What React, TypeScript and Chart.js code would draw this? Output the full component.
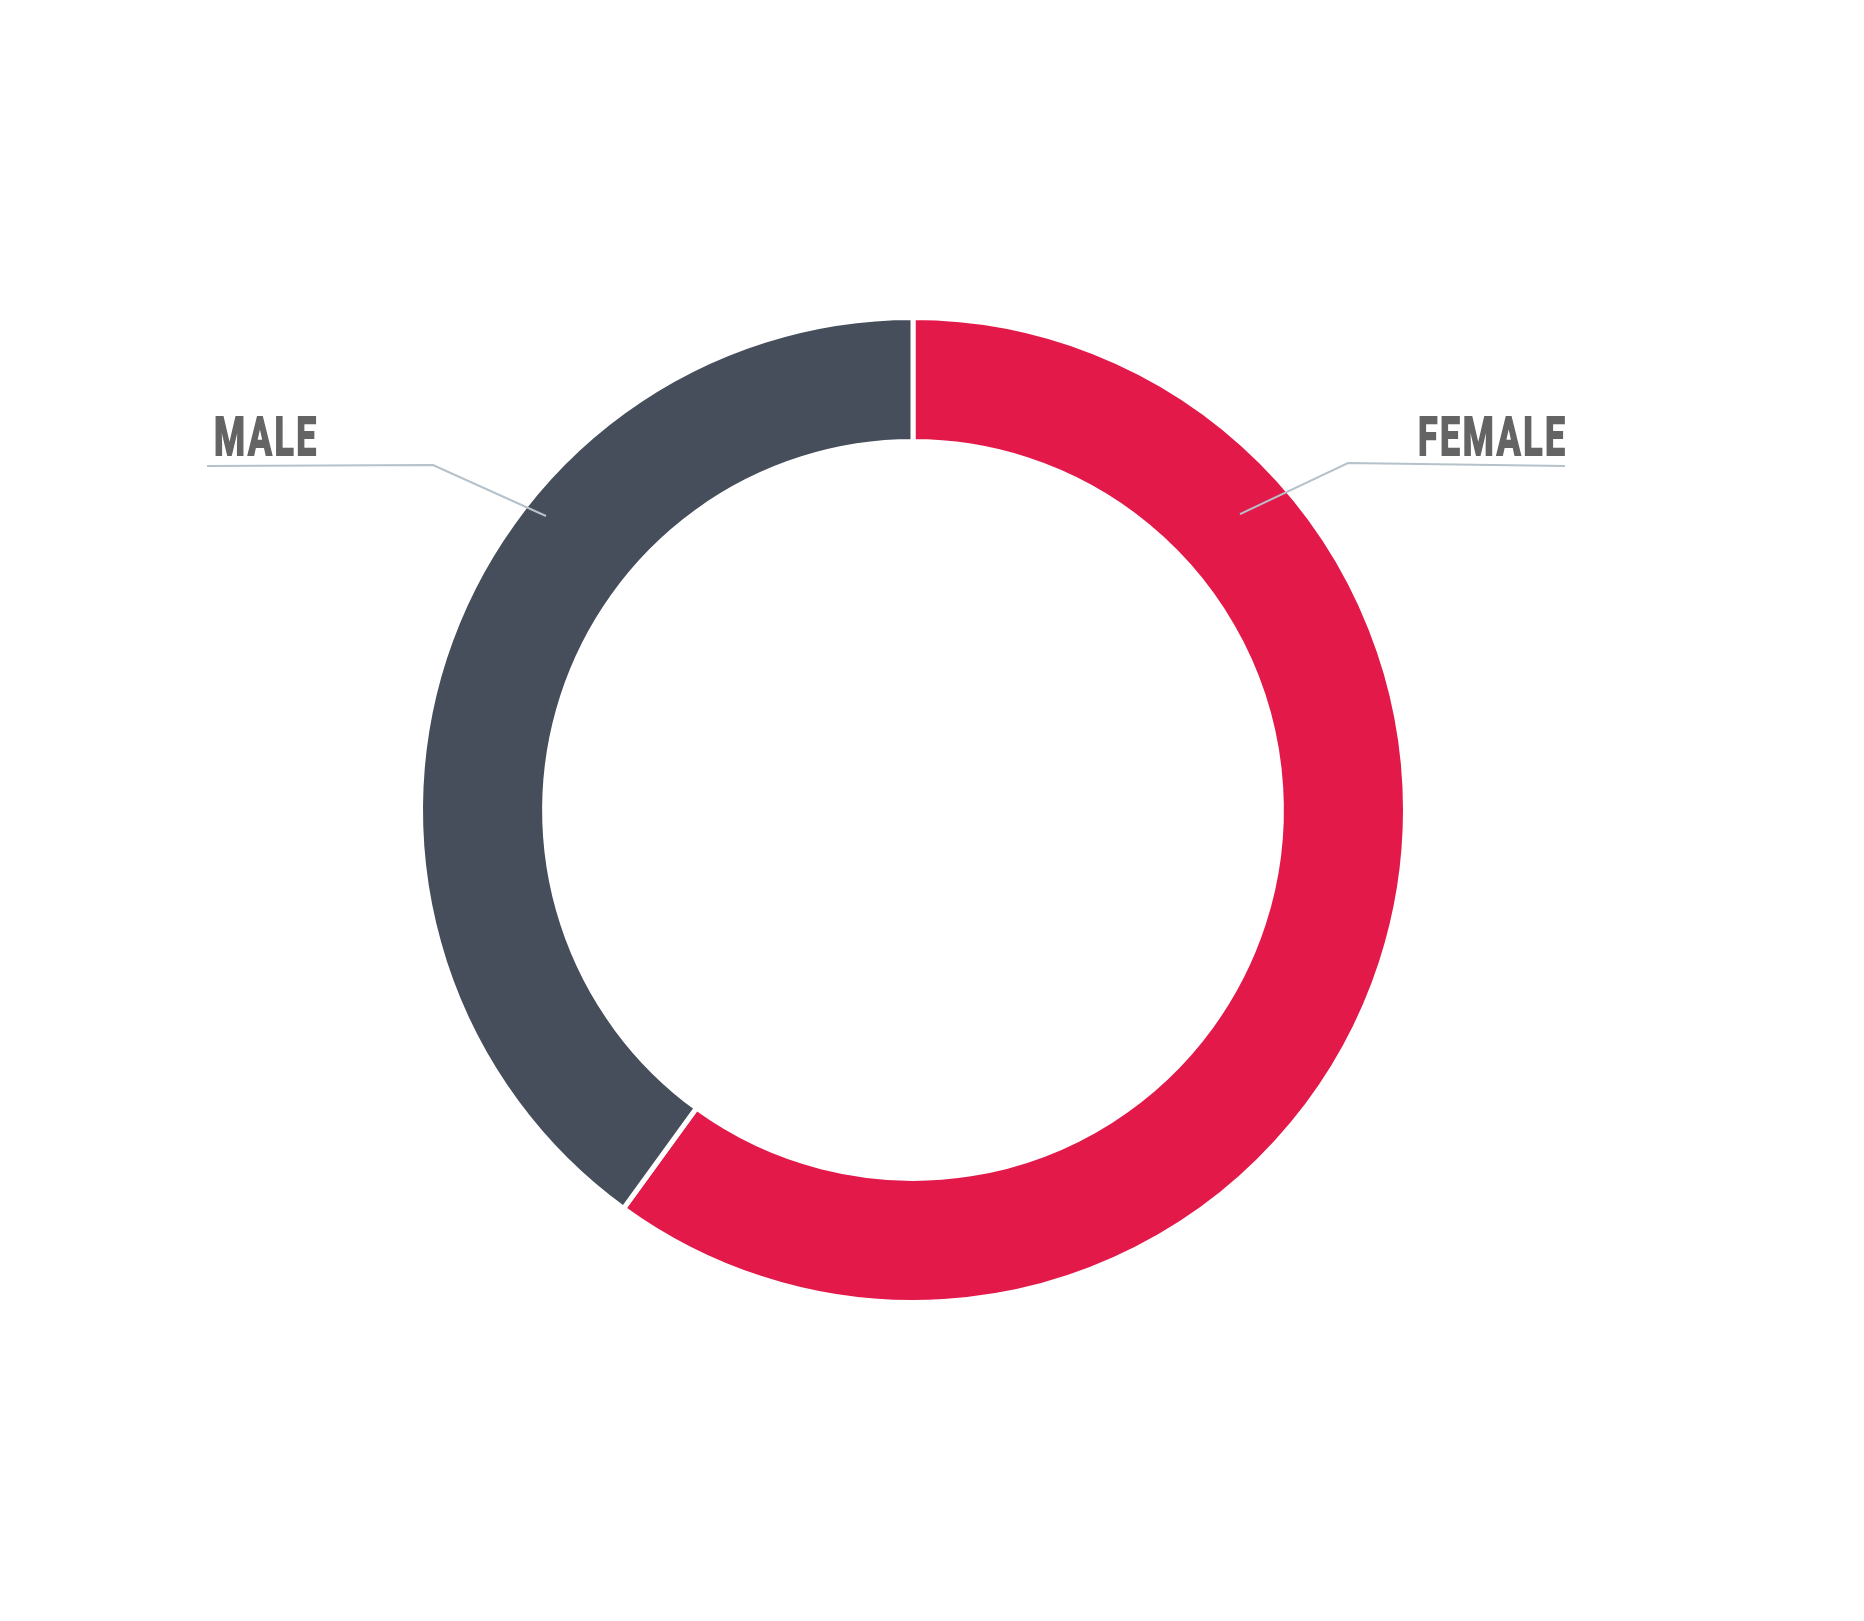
import React, { useEffect, useRef } from "react";
import { Chart, registerables } from "chart.js";

Chart.register(...registerables);

// ---- data ----
const categories = ["FEMALE", "MALE"];
const values = [60, 40];
const sliceColors = ["#E3194A", "#464E5B"];

// ---- style / layout ----
const W = 1864;
const H = 1621;
const BORDER = 5;
const TEXT_COLOR = "#646464";
const LEADER_COLOR = "#B5C2CA";

// callout geometry in units of the visible outer radius, relative to the centre
const callouts: Record<string, { align: "left" | "right"; tx: number; ty: number; pts: number[][] }> = {
  FEMALE: {
    align: "right",
    tx: 1.3306,
    ty: -0.7245,
    pts: [
      [1.3306, -0.702],
      [0.8878, -0.7082],
      [0.6673, -0.604],
    ],
  },
  MALE: {
    align: "left",
    tx: -1.4265,
    ty: -0.7245,
    pts: [
      [-1.4408, -0.702],
      [-0.9796, -0.7041],
      [-0.749, -0.6],
    ],
  },
};

const calloutPlugin = {
  id: "calloutLabels",
  afterDraw(chart: any) {
    const meta = chart.getDatasetMeta(0);
    if (!meta || !meta.data.length) return;
    const arc: any = meta.data[0];
    const cx = arc.x;
    const cy = arc.y;
    const R = arc.outerRadius - BORDER / 2;
    const ctx = chart.ctx as CanvasRenderingContext2D;
    ctx.save();
    const fontSize = Math.round(R * 0.11);
    ctx.font = `bold ${fontSize}px Roboto, "Liberation Sans", sans-serif`;
    try {
      (ctx as any).letterSpacing = "4px";
    } catch (e) {
      /* ignore */
    }
    const spacingGuess = 4;
    const ref = ctx.measureText("FEMALE").width - spacingGuess;
    const sx = (0.3 * R) / ref;
    categories.forEach((cat) => {
      const c = callouts[cat];
      if (!c) return;
      // leader line
      ctx.beginPath();
      c.pts.forEach(([px, py], i) => {
        const x = cx + px * R;
        const y = cy + py * R;
        if (i === 0) ctx.moveTo(x, y);
        else ctx.lineTo(x, y);
      });
      ctx.strokeStyle = LEADER_COLOR;
      ctx.lineWidth = 2;
      ctx.lineJoin = "miter";
      ctx.stroke();
      // text
      const w = (ctx.measureText(cat).width - spacingGuess) * sx;
      const x = c.align === "left" ? cx + c.tx * R : cx + c.tx * R - w;
      const y = cy + c.ty * R;
      ctx.save();
      ctx.translate(x, y);
      ctx.scale(sx, 1);
      ctx.fillStyle = TEXT_COLOR;
      ctx.strokeStyle = TEXT_COLOR;
      ctx.lineWidth = 2;
      ctx.textAlign = "left";
      ctx.textBaseline = "alphabetic";
      ctx.fillText(cat, 0, 0);
      ctx.strokeText(cat, 0, 0);
      ctx.restore();
    });
    ctx.restore();
  },
};

export default function App() {
  const canvasRef = useRef<HTMLCanvasElement | null>(null);

  useEffect(() => {
    if (!canvasRef.current) return;
    const chart = new Chart(canvasRef.current, {
      type: "doughnut",
      data: {
        labels: categories,
        datasets: [
          {
            data: values,
            backgroundColor: sliceColors,
            borderColor: "#FFFFFF",
            borderWidth: BORDER,
            hoverOffset: 0,
          },
        ],
      },
      options: {
        responsive: false,
        maintainAspectRatio: false,
        animation: false,
        devicePixelRatio: 1,
        cutout: "74.8%",
        rotation: 0,
        layout: {
          padding: { left: 418, right: 456, top: 315, bottom: 316 },
        },
        plugins: {
          legend: { display: false },
          tooltip: { enabled: false },
          title: { display: false },
        },
      },
      plugins: [calloutPlugin],
    });
    return () => chart.destroy();
  }, []);

  return (
    <div style={{ position: "absolute", left: 0, top: 0, width: W, height: H, background: "#FFFFFF" }}>
      <canvas ref={canvasRef} width={W} height={H} style={{ display: "block", width: W, height: H }} />
    </div>
  );
}
